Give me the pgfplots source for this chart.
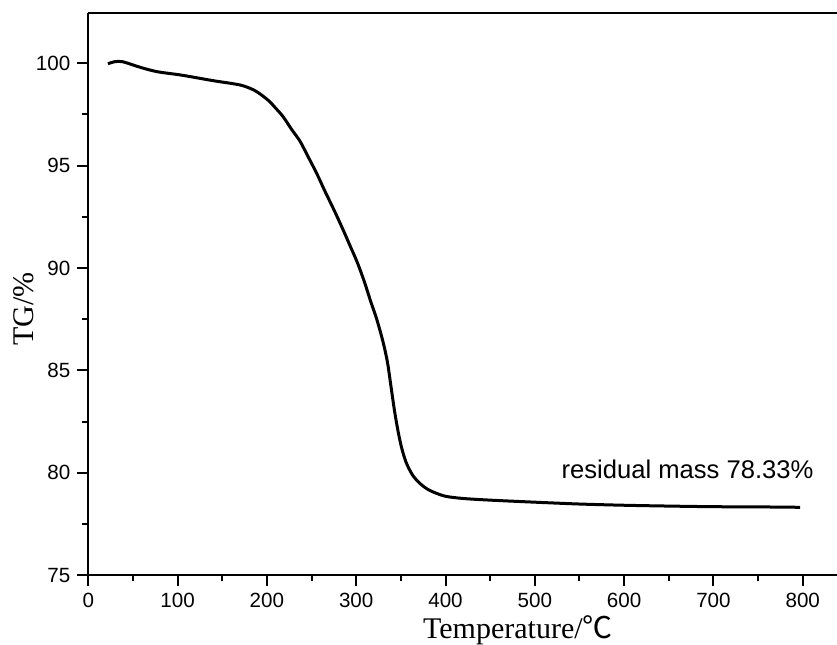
\documentclass[border=0pt]{standalone}
\usepackage{pgfplots}
\pgfplotsset{compat=1.18}
\usepackage{fontspec}
\setmainfont{Liberation Sans}
\newfontfamily\serif{Liberation Serif}
\newfontfamily\cjk{Noto Sans CJK SC}

\pgfplotstableread{
T      TG
22     99.98
30     100.08
38     100.08
50     99.92
60     99.78
77     99.59
100    99.45
114    99.35
140    99.15
170    98.94
185    98.70
195    98.42
203    98.13
210    97.80
218    97.40
228    96.75
237    96.20
246    95.45
256    94.60
265    93.75
275    92.85
285    91.90
293    91.10
301    90.30
309    89.35
316    88.40
323    87.50
330    86.40
335    85.40
339    84.20
343    83.00
347    82.00
351    81.20
356    80.50
363    79.90
371    79.50
380    79.20
390    79.00
401    78.85
420    78.75
450    78.67
500    78.57
550    78.48
600    78.42
650    78.38
700    78.35
750    78.34
797    78.32
}\tgdata

\begin{document}
\begin{tikzpicture}
\begin{axis}[
  name=ax,
  scale only axis,
  width=374.2pt, height=281.3pt,
  xmin=0, xmax=838,
  ymin=75, ymax=102.47,
  axis lines*=left,
  axis line style={line width=1pt},
  every tick/.style={black, line width=1pt},
  tick align=outside,
  major tick length=5.5pt,
  minor tick length=3pt,
  xtick={0,100,...,800},
  ytick={75,80,...,100},
  minor x tick num=1,
  minor y tick num=1,
  tick label style={font=\fontsize{10.3}{12}\selectfont},
  /pgf/number format/assume math mode=true,
  xlabel={\serif\fontsize{15}{17}\selectfont Temperature/{\cjk ℃}},
  ylabel={\serif\fontsize{15}{17}\selectfont TG/\%},
  xlabel style={at={(axis description cs:0.574,-0.0978)}, anchor=center},
  ylabel style={at={(axis description cs:-0.0869,0.473)}, anchor=center},
  clip=false,
]
\addplot[black, line width=1.5pt, smooth] table[x=T, y=TG] {\tgdata};
\draw[line width=1pt] (rel axis cs:0,1) -- (rel axis cs:1,1);
\node[anchor=base, font=\fontsize{12.8}{14}\selectfont] at (axis cs:671,79.75) {residual mass 78.33\%};
\end{axis}
\pgfresetboundingbox
\path (ax.south west) ++(-44.15pt,-34.35pt) coordinate (bl);
\path (ax.south west) ++(374.35pt,287.65pt) coordinate (tr);
\useasboundingbox (bl) rectangle (tr);
\end{tikzpicture}
\end{document}
